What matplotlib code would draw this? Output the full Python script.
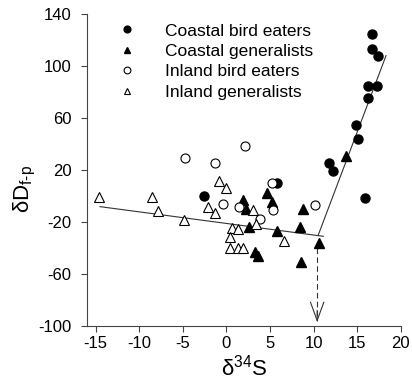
import numpy as np
import matplotlib
matplotlib.use("Agg")
import matplotlib.pyplot as plt

plt.rcParams['font.family'] = ['Liberation Sans', 'DejaVu Sans']
plt.rcParams['axes.unicode_minus'] = False
plt.rcParams['mathtext.fontset'] = 'custom'
plt.rcParams['mathtext.rm'] = 'Liberation Sans'
plt.rcParams['mathtext.it'] = 'Liberation Sans'

# Coastal bird eaters (filled circles)
cb_x = [16.65, 16.65, 17.4, 16.2, 17.3, 16.2, 14.85, 15.1, 11.8, 12.17, 15.9, -2.6, 5.82]
cb_y = [124.6, 113.0, 107.7, 84.6, 84.6, 75.2, 54.6, 43.8, 25.6, 19.2, -1.8, 0.2, 10.2]

# Coastal generalists (filled triangles)
cg_x = [13.7, 1.84, 2.2, 4.67, 5.17, 8.72, 2.6, 5.82, 8.42, 10.64, 3.25, 3.63, 8.6]
cg_y = [30.8, -3.1, -10.0, 2.1, -4.8, -10.0, -24.0, -27.0, -23.6, -36.4, -42.8, -46.2, -51.0]

# Inland bird eaters (open circles)
ib_x = [-4.75, -1.34, 2.18, -0.38, 1.45, 5.17, 5.28, 3.9, 10.14]
ib_y = [29.0, 25.6, 38.5, -6.2, -8.7, 10.2, -10.8, -17.9, -6.9]

# Inland generalists (open triangles)
ig_x = [-14.6, -8.5, -7.9, -4.9, -0.84, -0.07, -2.1, -1.34, 3.06, 3.44,
        0.69, 1.34, 0.38, 6.6, 0.38, 1.34, 1.84]
ig_y = [-1.0, -1.0, -11.3, -18.5, 11.8, 6.0, -8.2, -13.3, -10.8, -21.5,
        -24.8, -25.6, -31.3, -34.6, -40.2, -40.2, -40.2]

# two fitted segments and the breakpoint
left_x = [-14.5, 11.1]
left_y = [-8.2, -31.0]
right_x = [10.5, 18.3]
right_y = [-30.5, 108.0]
brk_x = 10.4

fig = plt.figure(figsize=(4.12, 3.89), dpi=100)
ax = fig.add_axes([0.211, 0.162, 0.762, 0.802])

ax.plot(left_x, left_y, color='#333333', lw=0.8)
ax.plot(right_x, right_y, color='#333333', lw=0.8)
# dashed drop line from the breakpoint, with an open arrow head
ax.plot([brk_x, brk_x], [-40, -96], color='#333333', lw=0.8, dashes=(5, 3))
ax.annotate('', xy=(brk_x, -97), xytext=(brk_x, -88),
            arrowprops=dict(arrowstyle='->,head_length=0.6,head_width=0.22',
                            color='#333333', lw=0.8, mutation_scale=22,
                            shrinkA=0, shrinkB=0))

ms = 6.5
ax.plot(cb_x, cb_y, 'o', color='black', ms=ms, label='Coastal bird eaters')
ax.plot(cg_x, cg_y, '^', color='black', ms=ms, label='Coastal generalists')
ax.plot(ib_x, ib_y, 'o', mfc='white', mec='black', mew=0.8, ms=ms, label='Inland bird eaters')
ax.plot(ig_x, ig_y, '^', mfc='white', mec='black', mew=0.8, ms=ms, label='Inland generalists')

ax.set_xlim(-16, 20)
ax.set_ylim(-100, 140)
ax.set_xticks(np.arange(-15, 21, 5))
ax.set_yticks(np.arange(-100, 141, 40))
for s in ['top', 'right']:
    ax.spines[s].set_visible(False)
for s in ['left', 'bottom']:
    ax.spines[s].set_color('#444444')
    ax.spines[s].set_linewidth(0.8)
ax.tick_params(direction='out', length=4, width=0.8, color='#444444', labelsize=12)
ax.tick_params(axis='y', pad=7)

ax.set_xlabel(r'δ$^{\mathregular{34}}$S', fontsize=16, labelpad=2)
ax.set_ylabel(r'δD$_{\mathregular{f‐p}}$', fontsize=16)
ax.yaxis.set_label_coords(-0.155, 0.44)

ax.legend(loc='upper left', bbox_to_anchor=(0.045, 1.02), frameon=False,
          fontsize=12.5, markerscale=0.75, handlelength=1.2, handletextpad=1.6,
          labelspacing=0.3)

fig.savefig('out.png', dpi=100)
